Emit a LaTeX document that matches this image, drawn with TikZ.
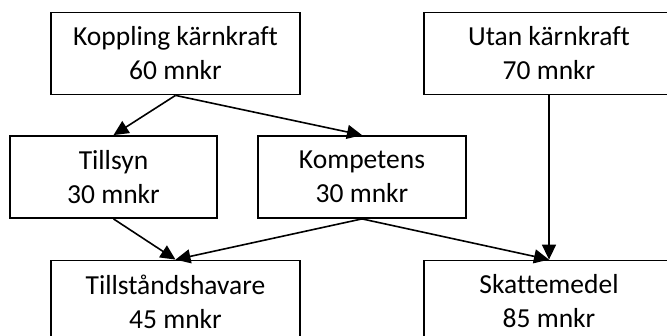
\documentclass[tikz,border=0pt]{standalone}
\usepackage{fontspec}
\setmainfont[Ligatures=NoCommon]{Carlito}
\usetikzlibrary{arrows.meta}
\begin{document}
\begin{tikzpicture}[x=1pt,y=-1pt,
  box/.style={draw=black,line width=1.8pt,fill=white,inner sep=0pt,align=center,
    minimum height=82pt,font=\fontsize{27.5}{34}\selectfont},
  conn/.style={line width=1.6pt,-{Triangle[length=15pt,width=14pt]}}]
\useasboundingbox (0,0) rectangle (667,336);
\clip (0,0) rectangle (667,336);
\fill[white] (0,0) rectangle (667,336);
\node[box,minimum width=249pt] (kop) at (175.5,53.5) {Koppling kärnkraft\\60 mnkr};
\node[box,minimum width=250pt] (utan) at (549,53.5) {Utan kärnkraft\\70 mnkr};
\node[box,minimum width=207pt] (till) at (113.5,177) {Tillsyn\\30 mnkr};
\node[box,minimum width=208pt] (komp) at (362,177) {Kompetens\\30 mnkr};
\node[box,minimum width=249pt] (hav) at (175.5,301.5) {Tillståndshavare\\45 mnkr};
\node[box,minimum width=250pt] (skatt) at (549,301.5) {Skattemedel\\85 mnkr};
\draw[conn] (kop.south) -- (till.north);
\draw[conn] (kop.south) -- (komp.north);
\draw[conn] (utan.south) -- (skatt.north);
\draw[conn] (till.south) -- (hav.north);
\draw[conn] (komp.south) -- (hav.north);
\draw[conn] (komp.south) -- (skatt.north);
\end{tikzpicture}
\end{document}
